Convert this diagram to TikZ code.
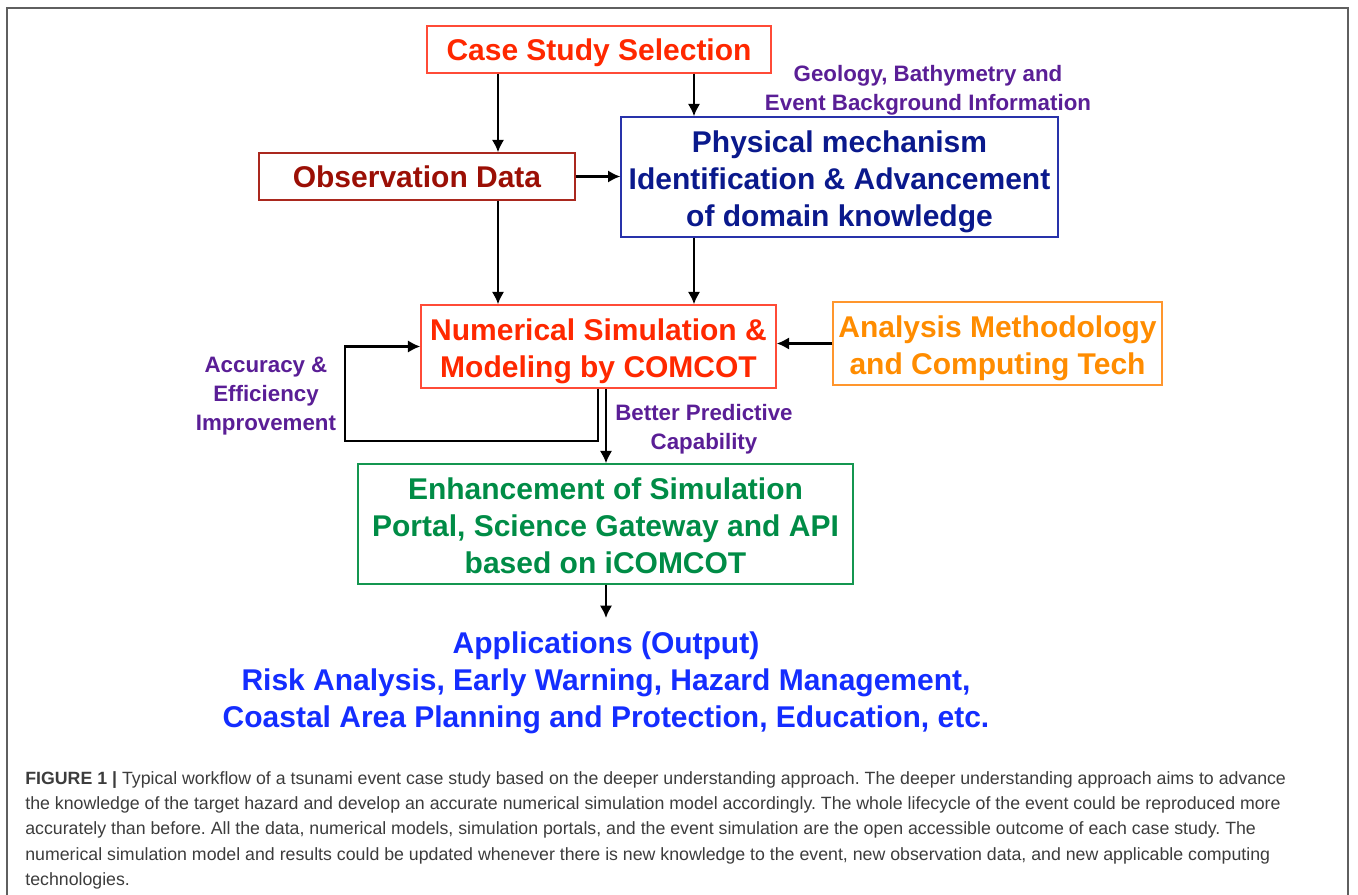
\documentclass[tikz,border=0pt]{standalone}
\usepackage{fontspec}
\setmainfont{Liberation Sans}
\usetikzlibrary{arrows.meta}

\definecolor{selred}{RGB}{255,40,0}
\definecolor{selline}{RGB}{255,75,55}
\definecolor{obsred}{RGB}{155,15,5}
\definecolor{obsline}{RGB}{170,40,30}
\definecolor{mechblue}{RGB}{10,25,140}
\definecolor{mechline}{RGB}{40,50,170}
\definecolor{notepurple}{RGB}{90,30,150}
\definecolor{techorange}{RGB}{255,140,0}
\definecolor{techline}{RGB}{255,150,45}
\definecolor{portalgreen}{RGB}{0,140,70}
\definecolor{portalline}{RGB}{20,150,80}
\definecolor{outblue}{RGB}{20,45,255}
\definecolor{capgray}{RGB}{60,60,60}
\definecolor{framegray}{RGB}{95,95,95}

% extra room above the first line of a box
\newcommand{\boxgap}{\rule{0pt}{1.05em}}

\begin{document}
\begin{tikzpicture}[x=0.02cm, y=-0.02cm,
		box/.style={draw, line width=0.85pt, align=center, inner sep=0pt,
			font=\bfseries\fontsize{17.07}{21.05}\selectfont},
		note/.style={align=center, inner sep=0pt, text=notepurple,
			font=\bfseries\fontsize{12.7}{16.5}\selectfont},
		arrow/.style={black, line width=1.25pt, -{Latex[length=7pt, width=7pt]}}]
		
		\useasboundingbox (0,0) rectangle (1358,895);
		\draw[framegray, line width=0.9pt] (7,900) -- (7,8) -- (1348,8) -- (1348,900);
		
		% columns the vertical arrows run in
		\coordinate (colL) at (498,0);
		\coordinate (colR) at (694,0);
		\coordinate (colM) at (606,0);
		\coordinate (loopx) at (598,0);
		\coordinate (fb) at (345,441);
		
		\node[box, draw=selline, text=selred, minimum width=6.88cm, minimum height=0.94cm] (sel) at (599,49.5) {\rule{0pt}{0.95em}Case Study Selection};
		\node[box, draw=obsline, text=obsred, minimum width=6.32cm, minimum height=0.94cm] (obs) at (417,176.5) {Observation Data};
		\node[box, draw=mechline, text=mechblue, minimum width=8.74cm, minimum height=2.40cm] (mech) at (839.5,177) {\boxgap Physical mechanism\\Identification \& Advancement\\of domain knowledge};
		\node[box, draw=selline, text=selred, minimum width=7.10cm, minimum height=1.66cm] (sim) at (598.5,346.5) {\boxgap Numerical Simulation \&\\Modeling by COMCOT};
		\node[box, draw=techline, text=techorange, minimum width=6.58cm, minimum height=1.66cm] (tech) at (997.5,343.5) {\boxgap Analysis Methodology\\and Computing Tech};
		\node[box, draw=portalline, text=portalgreen, minimum width=9.90cm, minimum height=2.40cm] (portal) at (605.5,524) {\rule{0pt}{0.85em}Enhancement of Simulation\\Portal, Science Gateway and API\\based on iCOMCOT};
		\node[anchor=north, align=center, inner xsep=0pt, inner ysep=7.7pt, text=outblue,
			font=\bfseries\fontsize{17.07}{21.05}\selectfont] (out) at (606,618)
			{Applications (Output)\\Risk Analysis, Early Warning, Hazard Management,\\Coastal Area Planning and Protection, Education, etc.};
		
		\node[note] (geo) at (928,90) {Geology, Bathymetry and\\Event Background Information};
		\node[note] (acc) at (266,396) {Accuracy \&\\Efficiency\\Improvement};
		\node[note] (pred) at (704,429) {Better Predictive\\Capability};
		
		\draw[arrow] (sel.south -| colL) -- (obs.north -| colL);
		\draw[arrow] (sel.south -| colR) -- (mech.north -| colR);
		\draw[arrow] (obs.east) -- (obs.east -| mech.west);
		\draw[arrow] (obs.south -| colL) -- (sim.north -| colL);
		\draw[arrow] (mech.south -| colR) -- (sim.north -| colR);
		\draw[arrow] (tech.west) -- (tech.west -| sim.east);
		% feedback loop back into the model
		\draw[arrow] (sim.south -| loopx) |- (fb) |- (sim.west);
		\draw[arrow] (sim.south -| colM) -- (portal.north -| colM);
		\draw[arrow] (portal.south -| colM) -- (out.north);
		
		\node[anchor=north west, align=left, inner sep=0pt, text=capgray,
			font=\fontsize{10.1}{14.4}\selectfont\frenchspacing] (cap) at (25,771)
			{\textbf{FIGURE 1 |} Typical workflow of a tsunami event case study based on the deeper understanding approach. The deeper understanding approach aims to advance\\
			the knowledge of the target hazard and develop an accurate numerical simulation model accordingly. The whole lifecycle of the event could be reproduced more\\
			accurately than before. All the data, numerical models, simulation portals, and the event simulation are the open accessible outcome of each case study. The\\
			numerical simulation model and results could be updated whenever there is new knowledge to the event, new observation data, and new applicable computing\\
			technologies.};
		
	\end{tikzpicture}
\end{document}
